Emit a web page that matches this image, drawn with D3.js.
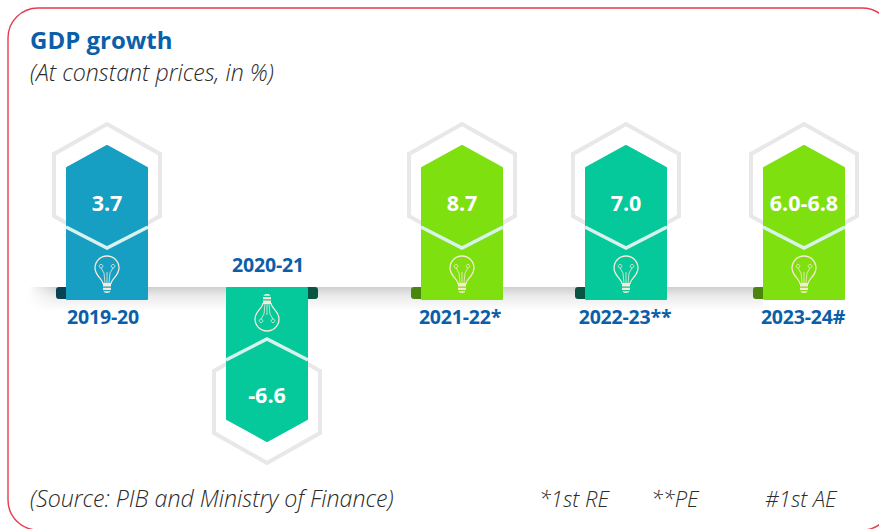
<!DOCTYPE html>
<html>
<head>
<meta charset="utf-8">
<title>GDP growth</title>
<script src="https://cdn.jsdelivr.net/npm/d3@7"></script>
<style>
    html, body { margin: 0; padding: 0; background: #fff; overflow: hidden; }
    text { font-family: "Open Sans", "Noto Sans", sans-serif; }
    .title { font-size: 24px; font-weight: 700; fill: #0b5fa9; }
    .note { font-size: 23.2px; font-weight: 300; font-style: italic; fill: #2b2b2b; }
    .foot { font-size: 22px; }
    .year { font-size: 19.5px; font-weight: 700; fill: #0b5fa9; text-anchor: middle; letter-spacing: -0.2px; }
    .value { font-size: 21.5px; font-weight: 700; fill: #fff; text-anchor: middle; }
</style>
</head>
<body>
<div id="chart"></div>
<script>
// values
const years = ["2019-20", "2020-21", "2021-22*", "2022-23**", "2023-24#"];
const values = [3.7, -6.6, 8.7, 7.0, 6.0];
const valueLabels = ["3.7", "-6.6", "8.7", "7.0", "6.0-6.8"];
const barColors = ["#169fc3", "#05c99b", "#7fe010", "#05c99b", "#7fe010"];
const tabColors = ["#0a4252", "#0a5443", "#4a8510", "#0a5443", "#4a8510"];
const footnotes = ["*1st RE", "**PE", "#1st AE"];

const width = 879, height = 529;

let svg = d3.select("#chart").append("svg")
    .attr("width", width)
    .attr("height", height)
    .style("display", "block");

// the bars are spaced by hand in the original, and all have the same length
let x = d3.scaleOrdinal().domain(years).range([107, 267, 462, 626, 804]);
let xLabel = d3.scaleOrdinal().domain(years).range([103, 268, 460, 625, 803]);
let baseline = d3.scaleThreshold().domain([0]).range([287, 300]);
let side = d3.scaleThreshold().domain([0]).range([1, -1]);

let defs = svg.append("defs");

let fade = defs.append("linearGradient")
    .attr("id", "shadow")
    .attr("x1", 0).attr("x2", 0).attr("y1", 0).attr("y2", 1);
fade.append("stop").attr("offset", 0).attr("stop-color", "#cfcfcf");
fade.append("stop").attr("offset", 0.4).attr("stop-color", "#ececec");
fade.append("stop").attr("offset", 1).attr("stop-color", "#ffffff");

let edge = defs.append("linearGradient")
    .attr("id", "edge")
    .attr("x1", 0).attr("x2", 1).attr("y1", 0).attr("y2", 0);
edge.append("stop").attr("offset", 0).attr("stop-color", "#fff").attr("stop-opacity", 1);
edge.append("stop").attr("offset", 1).attr("stop-color", "#fff").attr("stop-opacity", 0);

// frame
svg.append("rect")
    .attr("x", 8)
    .attr("y", 8)
    .attr("width", 884)
    .attr("height", 522)
    .attr("rx", 30)
    .attr("fill", "none")
    .attr("stroke", "#e83a4c")
    .attr("stroke-width", 1.4);

// headline
svg.append("text").attr("class", "title").attr("x", 30).attr("y", 49).text("GDP growth");
svg.append("text").attr("class", "note").attr("x", 30).attr("y", 81).text("(At constant prices, in %)");

// soft shadow along the zero line
svg.append("rect")
    .attr("x", 28).attr("y", 287)
    .attr("width", 735).attr("height", 24)
    .attr("fill", "url(#shadow)");
svg.append("rect")
    .attr("x", 28).attr("y", 287)
    .attr("width", 28).attr("height", 24)
    .attr("fill", "url(#edge)");

let line = d3.line();

function shape(d, i, pts) {
    let b = baseline(values[i]), s = side(values[i]), cx = x(d);
    return line(pts.map(p => [cx + p[0], b + s * p[1]]));
}

let bars = svg.selectAll(".bar")
    .data(years)
    .enter().append("g")
    .attr("class", "bar");

// outer grey hexagon
bars.append("path")
    .attr("d", (d, i) => shape(d, i, [[0, 176], [53, 146], [53, 84], [0, 54], [-53, 84], [-53, 146]]) + "Z")
    .attr("fill", "none")
    .attr("stroke", "#e9e7e9")
    .attr("stroke-width", 4);

// little folded tab at the foot of each bar
bars.append("rect")
    .attr("x", (d, i) => x(d) + (values[i] < 0 ? 36 : -51))
    .attr("y", 287)
    .attr("width", 15)
    .attr("height", 12)
    .attr("rx", 3)
    .attr("fill", (d, i) => tabColors[i]);

// bar with hexagon head, the stroke rounds its corners
bars.append("path")
    .attr("d", (d, i) => shape(d, i, [[-40, 1], [-40, 132], [0, 154], [40, 132], [40, 1]]) + "Z")
    .attr("fill", (d, i) => barColors[i])
    .attr("stroke", (d, i) => barColors[i])
    .attr("stroke-width", 2)
    .attr("stroke-linejoin", "round");

// light chevron under the head
bars.append("path")
    .attr("d", (d, i) => shape(d, i, [[-41, 73], [0, 52], [41, 73]]))
    .attr("fill", "none")
    .attr("stroke", "#d8f3ee")
    .attr("stroke-width", 3.5);

// bulb icon, globe away from the zero line
let bulb = bars.append("g")
    .attr("transform", (d, i) => "translate(" + x(d) + "," + baseline(values[i]) + ") scale(1," + side(values[i]) + ")")
    .attr("fill", "none")
    .attr("stroke", "#fbe8d6");

bulb.append("path")
    .attr("stroke-width", 1.3)
    .attr("d", "M-4,16 C-4,21 -12,24 -12,32 A12,12 0 1 0 12,32 C12,24 4,21 4,16");
bulb.append("path")
    .attr("stroke-width", 0.8)
    .attr("d", "M-2,17 L-3,27 L-6,32 M2,17 L3,27 L6,32 M0,17 L0,28 M-6,32 a1.8,1.8 0 1 0 0.1,0 M6,32 a1.8,1.8 0 1 0 0.1,0");
bulb.append("path")
    .attr("stroke", "none")
    .attr("fill", "#fbe8d6")
    .attr("d", "M-4,17 L4,17 L4,13.5 L-4,13.5Z M-4,12.3 L4,12.3 L4,10 L-4,10Z M-3.5,8.8 L3.5,8.8 C3,6.5 -3,6.5 -3.5,8.8Z");

// value and year labels
bars.append("text")
    .attr("class", "value")
    .attr("x", d => x(d))
    .attr("y", (d, i) => values[i] < 0 ? 403 : 211)
    .text((d, i) => valueLabels[i]);

bars.append("text")
    .attr("class", "year")
    .attr("x", d => xLabel(d))
    .attr("y", (d, i) => values[i] < 0 ? 272 : 324)
    .text(d => d);

// source and footnotes
svg.append("text").attr("class", "note").attr("x", 30).attr("y", 507).text("(Source: PIB and Ministry of Finance)");
svg.selectAll(".foot")
    .data(footnotes)
    .enter().append("text")
    .attr("class", "note foot")
    .attr("x", (d, i) => [539, 651, 765][i])
    .attr("y", 507)
    .text(d => d);
</script>
</body>
</html>
